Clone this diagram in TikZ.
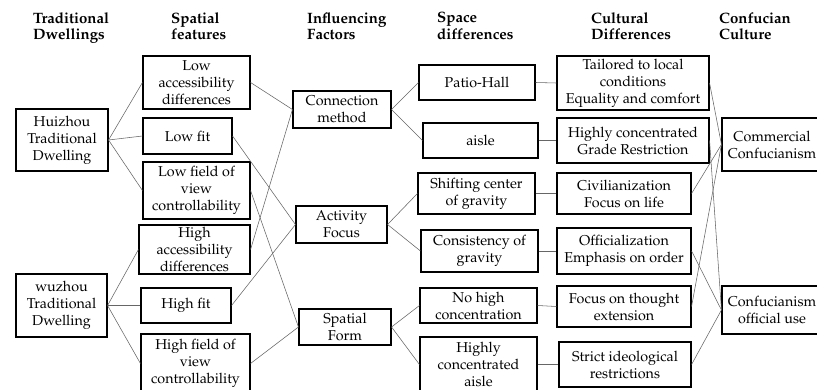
\documentclass[tikz,border=0pt]{standalone}
\usepackage[T1]{fontenc}
\usepackage{mathpazo}
\newcommand\boxfont{\fontsize{14.3}{17}\selectfont}
\newcommand\headfont{\fontsize{15}{16.5}\selectfont\bfseries}
\tikzset{
  box/.style={draw, line width=1.1pt, inner sep=1pt, align=center, font=\boxfont},
  head/.style={anchor=north west, inner sep=0pt, align=left, font=\headfont},
  link/.style={draw=black!60, line width=0.55pt},
}
\begin{document}
\begin{tikzpicture}[x=1pt,y=-1pt]
\fill[white] (0,0) rectangle (817,390);
\useasboundingbox (0,0) rectangle (817,390);

% column headings
\node[head] (h1) at (33,12) {Traditional\\Dwellings};
\node[head] (h2) at (171,12) {Spatial\\features};
\node[head] (h3) at (307,12) {Influencing\\Factors};
\node[head] (h4) at (437,12) {Space\\differences};
\node[head] (h5) at (591,12) {Cultural\\Differences};
\node[head] (h6) at (719,12) {Confucian\\Culture};

% dwellings
\node[box, minimum width=92, minimum height=62] (hui) at (62,140) {Huizhou\\Traditional\\Dwelling};
\node[box, minimum width=91, minimum height=63] (wu) at (61.5,305.5) {wuzhou\\Traditional\\Dwelling};

% spatial features
\node[box, minimum width=107, minimum height=53] (lowacc) at (196.5,82.5) {Low\\accessibility\\differences};
\node[box, minimum width=89, minimum height=36] (lowfit) at (187.5,136) {Low fit};
\node[box, minimum width=107, minimum height=57] (lowfov) at (196.5,190.5) {Low field of\\view\\controllability};
\node[box, minimum width=111, minimum height=49] (highacc) at (194.5,249.5) {High\\accessibility\\differences};
\node[box, minimum width=90, minimum height=35] (highfit) at (186,305.5) {High fit};
\node[box, minimum width=109, minimum height=59] (highfov) at (195.5,363.5) {High field of\\view\\controllability};

% influencing factors
\node[box, minimum width=98, minimum height=37] (conn) at (342,109.5) {Connection\\method};
\node[box, minimum width=91, minimum height=37] (act) at (341.5,224.5) {Activity\\Focus};
\node[box, minimum width=92, minimum height=36] (form) at (345,327) {Spatial\\Form};

% space differences
\node[box, minimum width=116, minimum height=35] (patio) at (477,82.5) {Patio-Hall};
\node[box, minimum width=115, minimum height=35] (aisle) at (480.5,140.5) {aisle};
\node[box, minimum width=117, minimum height=41] (shift) at (476.5,193.5) {Shifting center\\of gravity};
\node[box, minimum width=117, minimum height=42] (cons) at (479.5,251) {Consistency of\\gravity};
\node[box, minimum width=117, minimum height=35] (nohigh) at (478.5,305.5) {No high\\concentration};
\node[box, minimum width=117, minimum height=55] (hca) at (478.5,364.5) {Highly\\concentrated\\aisle};

% cultural differences
\node[box, minimum width=152, minimum height=54] (tail) at (633,83) {Tailored to local\\conditions\\Equality and comfort};
\node[box, minimum width=152, minimum height=45] (hcgr) at (633,140.5) {Highly concentrated\\Grade Restriction};
\node[box, minimum width=134, minimum height=41] (civ) at (624,193.5) {Civilianization\\Focus on life};
\node[box, minimum width=134, minimum height=46] (off) at (624,251) {Officialization\\Emphasis on order};
\node[box, minimum width=134, minimum height=41] (thought) at (624,306.5) {Focus on thought\\extension};
\node[box, minimum width=132, minimum height=45] (strict) at (625,364.5) {Strict ideological\\restrictions};

% Confucian culture
\node[box, minimum width=100, minimum height=53] (comm) at (772,144.5) {Commercial\\Confucianism};
\node[box, minimum width=100, minimum height=48] (offuse) at (772,310) {Confucianism\\official use};

% dwellings to spatial features
\draw[link] (hui.east) -- (lowacc.west);
\draw[link] (hui.east) -- (lowfit.west);
\draw[link] (hui.east) -- (lowfov.west);
\draw[link] (wu.east) -- (highacc.west);
\draw[link] (wu.east) -- (highfit.west);
\draw[link] (wu.east) -- (highfov.west);

% spatial features to influencing factors
\draw[link] (lowacc.east) -- (conn.west);
\draw[link] (lowfit.east) -- (act.west);
\draw[link] (lowfov.east) -- (form.west);
\draw[link] (highacc.east) -- (conn.west);
\draw[link] (highfit.east) -- (act.west);
\draw[link] (highfov.east) -- (form.west);

% influencing factors to space differences
\draw[link] (conn.east) -- (patio.west);
\draw[link] (conn.east) -- (aisle.west);
\draw[link] (act.east) -- (shift.west);
\draw[link] (act.east) -- (cons.west);
\draw[link] (form.east) -- (nohigh.west);
\draw[link] (form.east) -- (hca.west);

% space differences to cultural differences
\draw[link] (patio.east) -- (tail.west);
\draw[link] (aisle.east) -- (hcgr.west);
\draw[link] (shift.east) -- (civ.west);
\draw[link] (cons.east) -- (off.west);
\draw[link] (nohigh.east) -- (thought.west);
\draw[link] (hca.east) -- (strict.west);

% cultural differences to Confucian culture
\draw[link] (tail.east) -- (comm.west);
\draw[link] (civ.east) -- (comm.west);
\draw[link] (thought.east) -- (comm.west);
\draw[link] (hcgr.east) -- (offuse.west);
\draw[link] (off.east) -- (offuse.west);
\draw[link] (strict.east) -- (offuse.west);
\end{tikzpicture}
\end{document}
